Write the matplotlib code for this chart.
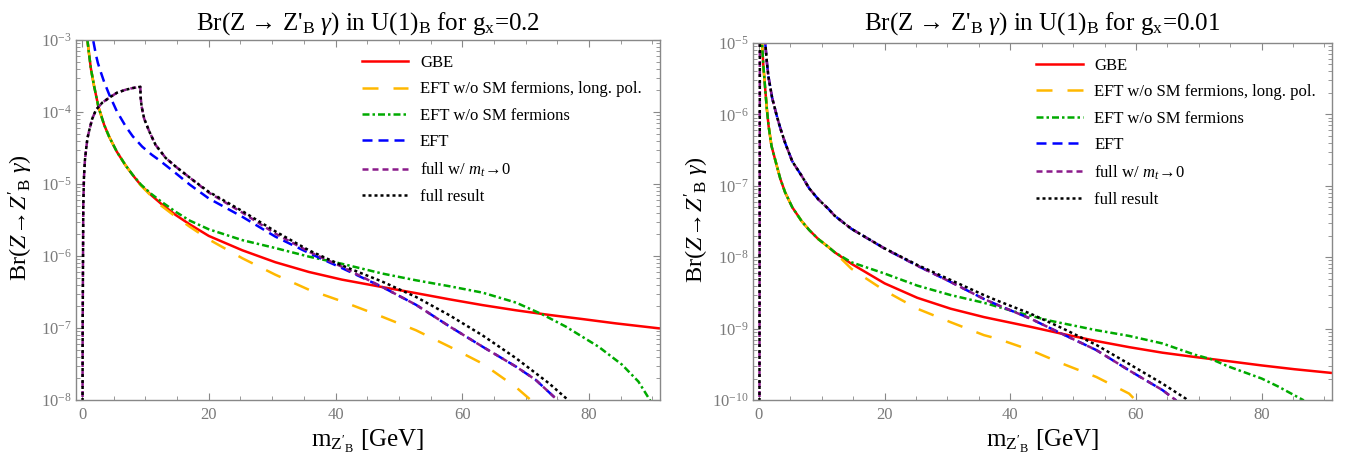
import numpy as np
import matplotlib
matplotlib.use("Agg")
import matplotlib.pyplot as plt
from matplotlib.ticker import FixedLocator, LogFormatterMathtext, MultipleLocator, NullFormatter

plt.rcParams['font.family'] = ['Liberation Serif', 'DejaVu Serif']
plt.rcParams['mathtext.fontset'] = 'custom'
plt.rcParams['mathtext.rm'] = 'Liberation Serif'
plt.rcParams['mathtext.it'] = 'Liberation Serif:italic'
plt.rcParams['mathtext.bf'] = 'Liberation Serif:bold'

# ---------------- data: left panel (g_x = 0.2) ----------------
L_gbe_x = [0.85, 1.1, 1.4, 1.9, 2.6, 3.5, 4.3, 5.5, 6.9, 8.0, 9.3, 11, 12.5, 14.8, 17, 20, 25.3, 30.5, 35.8, 41,
           47.4, 52.7, 58, 63.2, 68.5, 73.7, 79, 84.2, 91]
L_gbe_y = [1.0e-3, 6.5e-4, 4.0e-4, 2.3e-4, 1.17e-4, 6.6e-5, 4.5e-5, 2.8e-5, 1.8e-5, 1.33e-5, 9.6e-6, 6.9e-6,
           5.3e-6, 3.7e-6, 2.75e-6, 1.9e-6, 1.2e-6, 8.2e-7, 6.0e-7, 4.7e-7, 3.7e-7, 3.05e-7, 2.5e-7, 2.08e-7,
           1.76e-7, 1.52e-7, 1.33e-7, 1.16e-7, 9.9e-8]

L_long_x = [0.85, 1.1, 1.4, 1.9, 2.6, 3.5, 4.3, 5.5, 6.9, 8.0, 9.3, 11, 12.5, 14.8, 17, 20, 25.3, 30.5, 35.8, 41,
            46.8, 52.7, 58, 63.2, 68.5, 70.8, 72]
L_long_y = [1.0e-3, 6.5e-4, 4.0e-4, 2.3e-4, 1.17e-4, 6.6e-5, 4.5e-5, 2.8e-5, 1.8e-5, 1.33e-5, 9.5e-6, 6.7e-6,
            5.0e-6, 3.5e-6, 2.55e-6, 1.7e-6, 9.3e-7, 5.5e-7, 3.4e-7, 2.35e-7, 1.5e-7, 9.3e-8, 5.5e-8, 3.2e-8,
            1.5e-8, 1.0e-8, 8e-9]

L_nof_x = [0.85, 1.1, 1.4, 1.9, 2.6, 3.5, 4.3, 5.5, 6.9, 8.0, 9.3, 11, 12.5, 14.8, 17, 20, 25.3, 30.5, 35.8, 41,
           47.4, 52.7, 58, 63.2, 68.5, 72.6, 76.3, 81.5, 85.2, 87.8, 89.6, 90.5]
L_nof_y = [1.0e-3, 6.5e-4, 4.0e-4, 2.3e-4, 1.17e-4, 6.6e-5, 4.5e-5, 2.8e-5, 1.8e-5, 1.34e-5, 9.8e-6, 7.2e-6,
           5.7e-6, 4.1e-6, 3.1e-6, 2.35e-6, 1.66e-6, 1.29e-6, 9.8e-7, 7.8e-7, 5.7e-7, 4.6e-7, 3.8e-7, 3.1e-7,
           2.25e-7, 1.55e-7, 1.05e-7, 5.5e-8, 3.1e-8, 1.8e-8, 1.0e-8, 6e-9]

L_eft_x = [1.4, 1.75, 2.2, 2.5, 3.0, 3.5, 4.3, 5.5, 6.9, 8.0, 9.5, 11, 12.2, 14.8, 17, 20, 25.3, 30.5, 35.8, 41,
           47.4, 52.7, 58, 63.2, 68.5, 71.6, 75, 76]
L_eft_y = [1.6e-3, 1.0e-3, 6.2e-4, 4.8e-4, 3.5e-4, 2.6e-4, 1.74e-4, 1.02e-4, 6.3e-5, 4.6e-5, 3.3e-5, 2.55e-5,
           2.14e-5, 1.41e-5, 9.8e-6, 6.3e-6, 3.5e-6, 1.86e-6, 1.1e-6, 6.8e-7, 3.7e-7, 2.1e-7, 1.05e-7, 5.5e-8,
           2.9e-8, 1.9e-8, 1.0e-8, 8e-9]

L_mt0_x = [0.07, 0.1, 0.2, 0.3, 0.45, 0.63, 0.85, 1.15, 1.6, 2.2, 3.2, 4.3, 5.5, 6.9, 8.0, 9.2, 9.25, 9.4, 9.8,
           10.6, 11.6, 13.2, 14.8, 17.4, 20, 25.3, 30.5, 35.8, 41, 47.4, 52.7, 58, 63.2, 68.5, 71.6, 75, 76]
L_mt0_y = [1e-9, 1e-7, 5e-6, 1.2e-5, 2.1e-5, 2.95e-5, 4.3e-5, 5.6e-5, 8.0e-5, 1.07e-4, 1.35e-4, 1.58e-4,
           1.85e-4, 2.04e-4, 2.15e-4, 2.24e-4, 1.6e-4, 1.2e-4, 8.1e-5, 5.4e-5, 3.5e-5, 2.3e-5, 1.74e-5, 1.15e-5,
           7.6e-6, 4.0e-6, 2.05e-6, 1.15e-6, 7.1e-7, 3.7e-7, 2.1e-7, 1.05e-7, 5.5e-8, 2.9e-8, 1.9e-8, 1.0e-8, 8e-9]

L_full_x = [0.07, 0.1, 0.2, 0.3, 0.45, 0.63, 0.85, 1.15, 1.6, 2.2, 3.2, 4.3, 5.5, 6.9, 8.0, 9.2, 9.25, 9.4, 9.8,
            10.6, 11.6, 13.2, 14.8, 17.4, 20, 25.3, 30.5, 35.8, 41, 47.4, 52.7, 58, 63.2, 68.5, 73.7, 76.7, 77.5]
L_full_y = [1e-9, 1e-7, 5e-6, 1.2e-5, 2.1e-5, 2.95e-5, 4.3e-5, 5.6e-5, 8.0e-5, 1.07e-4, 1.35e-4, 1.58e-4,
            1.85e-4, 2.04e-4, 2.15e-4, 2.24e-4, 1.6e-4, 1.2e-4, 8.1e-5, 5.4e-5, 3.5e-5, 2.3e-5, 1.74e-5, 1.15e-5,
            7.8e-6, 4.2e-6, 2.2e-6, 1.2e-6, 7.4e-7, 4.4e-7, 2.7e-7, 1.5e-7, 7.9e-8, 3.8e-8, 1.7e-8, 1.0e-8, 8e-9]

# ---------------- data: right panel (g_x = 0.01) ----------------
R_gbe_x = [0.4, 0.7, 1.0, 1.25, 1.53, 2.0, 2.84, 3.4, 4.16, 5.3, 6.79, 8.0, 9.42, 11, 12.06, 14.7, 20, 25.2, 30.5,
           35.8, 38, 43.2, 48.4, 53.7, 58.9, 64.2, 69.4, 74.7, 80, 85.2, 91]
R_gbe_y = [1.3e-5, 4.8e-6, 2.24e-6, 1.2e-6, 6.9e-7, 3.6e-7, 1.9e-7, 1.25e-7, 8.1e-8, 5.0e-8, 3.2e-8, 2.4e-8,
           1.8e-8, 1.4e-8, 1.17e-8, 8.1e-9, 4.3e-9, 2.7e-9, 1.9e-9, 1.45e-9, 1.32e-9, 1.06e-9, 8.4e-10, 6.7e-10,
           5.5e-10, 4.6e-10, 4.0e-10, 3.5e-10, 3.05e-10, 2.7e-10, 2.4e-10]

R_long_x = [0.4, 0.7, 1.0, 1.25, 1.53, 2.0, 2.84, 3.4, 4.16, 5.3, 6.79, 8.0, 9.42, 11, 12.06, 14.7, 20, 25.2,
            30.5, 35.8, 38, 43.2, 48.4, 53.7, 58.9, 59.9, 60.5]
R_long_y = [1.3e-5, 4.8e-6, 2.24e-6, 1.2e-6, 6.9e-7, 3.6e-7, 1.9e-7, 1.25e-7, 8.1e-8, 5.0e-8, 3.2e-8, 2.4e-8,
            1.8e-8, 1.4e-8, 1.17e-8, 6.9e-9, 3.4e-9, 1.9e-9, 1.23e-9, 8.1e-10, 7.2e-10, 5.0e-10, 3.2e-10,
            2.1e-10, 1.23e-10, 1.0e-10, 8e-11]

R_nof_x = [0.4, 0.7, 1.0, 1.25, 1.53, 2.0, 2.84, 3.4, 4.16, 5.3, 6.79, 8.0, 9.42, 11, 12.06, 14.7, 20, 25.2, 30.5,
           35.8, 41, 46.3, 53.7, 58.9, 64.2, 69.4, 72.1, 74.7, 80, 82.6, 86.6, 87.5]
R_nof_y = [1.3e-5, 4.8e-6, 2.24e-6, 1.2e-6, 6.9e-7, 3.6e-7, 1.9e-7, 1.25e-7, 8.1e-8, 5.0e-8, 3.2e-8, 2.4e-8,
           1.8e-8, 1.4e-8, 1.17e-8, 8.5e-9, 5.9e-9, 4.0e-9, 2.95e-9, 2.3e-9, 1.7e-9, 1.29e-9, 9.5e-10, 7.9e-10,
           6.2e-10, 4.3e-10, 3.7e-10, 2.95e-10, 2.0e-10, 1.55e-10, 1.0e-10, 7e-11]

R_eft_x = [0.8, 1.0, 1.25, 1.5, 2.1, 2.84, 3.4, 4.16, 5.3, 6.79, 8.0, 9.42, 11, 12.06, 14.7, 20, 25.2, 30.5, 35.8,
           38, 43.2, 48.4, 53.7, 58.9, 64.2, 66.3, 67]
R_eft_y = [1.6e-5, 1.0e-5, 5.5e-6, 3.4e-6, 1.7e-6, 9.5e-7, 6.4e-7, 4.0e-7, 2.2e-7, 1.38e-7, 9.2e-8, 6.5e-8,
           4.8e-8, 3.8e-8, 2.5e-8, 1.32e-8, 7.6e-9, 4.5e-9, 2.6e-9, 2.14e-9, 1.38e-9, 8.3e-10, 5.0e-10, 2.6e-10,
           1.38e-10, 1.0e-10, 8e-11]

R_mt0_x = [0.07, 0.1, 0.14, 0.4, 0.8, 1.0, 1.25, 1.5, 2.1, 2.84, 3.4, 4.16, 5.3, 6.79, 8.0, 9.42, 11, 12.06, 14.7,
           20, 25.2, 30.5, 35.8, 38, 43.2, 48.4, 53.7, 58.9, 64.2, 66.3, 67]
R_mt0_y = [1e-11, 1e-8, 1e-5, 6e-5, 1.6e-5, 1.0e-5, 5.5e-6, 3.4e-6, 1.7e-6, 9.5e-7, 6.4e-7, 4.0e-7, 2.2e-7,
           1.38e-7, 9.2e-8, 6.5e-8, 4.8e-8, 3.8e-8, 2.5e-8, 1.32e-8, 7.6e-9, 4.5e-9, 2.6e-9, 2.14e-9, 1.38e-9,
           8.3e-10, 5.0e-10, 2.6e-10, 1.38e-10, 1.0e-10, 8e-11]

R_full_x = [0.07, 0.1, 0.14, 0.4, 0.8, 1.0, 1.25, 1.5, 2.1, 2.84, 3.4, 4.16, 5.3, 6.79, 8.0, 9.42, 11, 12.06,
            14.7, 20, 25.2, 30.5, 35.8, 38, 43.2, 48.4, 53.7, 58.9, 64.2, 67.9, 69]
R_full_y = [1e-11, 1e-8, 1e-5, 6e-5, 1.6e-5, 1.0e-5, 5.5e-6, 3.4e-6, 1.7e-6, 9.5e-7, 6.4e-7, 4.0e-7, 2.2e-7,
            1.38e-7, 9.2e-8, 6.5e-8, 4.8e-8, 3.8e-8, 2.5e-8, 1.33e-8, 7.8e-9, 4.8e-9, 2.95e-9, 2.45e-9, 1.62e-9,
            1.0e-9, 5.9e-10, 3.2e-10, 1.7e-10, 1.05e-10, 8e-11]

labels = ["GBE", "EFT w/o SM fermions, long. pol.", "EFT w/o SM fermions", "EFT",
          r"full w/ $m_t\!\rightarrow\!0$", "full result"]
titles = [r"Br(Z → Z'$_{\mathrm{B}}$ $\gamma$) in U(1)$_{\mathrm{B}}$ for g$_{\mathrm{x}}$=0.2",
          r"Br(Z → Z'$_{\mathrm{B}}$ $\gamma$) in U(1)$_{\mathrm{B}}$ for g$_{\mathrm{x}}$=0.01"]
ylims = [(1e-8, 1e-3), (1e-10, 1e-5)]
yticks = [[1e-8, 1e-7, 1e-6, 1e-5, 1e-4, 1e-3], [1e-10, 1e-9, 1e-8, 1e-7, 1e-6, 1e-5]]

# ---------------- styles ----------------
W, H = 1359, 466
styles = [
    dict(color='#FF0000', lw=1.8, ls='-'),
    dict(color='#FFB800', lw=1.8, dashes=(6.4, 6.0)),
    dict(color='#00AA00', lw=1.8, dashes=(2.8, 1.2, 1.0, 1.2)),
    dict(color='#0000FF', lw=1.8, dashes=(4.0, 2.4)),
    dict(color='#8B1A8B', lw=1.8, dashes=(2.4, 1.6)),
    dict(color='#000000', lw=1.8, dashes=(1.2, 1.2)),
]

fig = plt.figure(figsize=(W / 100, H / 100), dpi=100)

def px_axes(l, t, r, b):
    return fig.add_axes([l / W, 1 - b / H, (r - l) / W, (b - t) / H])

axL = px_axes(76, 40, 660, 400)
axR = px_axes(753, 43, 1332, 400)

gray = '#888888'
series = [
    [(L_gbe_x, L_gbe_y), (L_long_x, L_long_y), (L_nof_x, L_nof_y), (L_eft_x, L_eft_y), (L_mt0_x, L_mt0_y), (L_full_x, L_full_y)],
    [(R_gbe_x, R_gbe_y), (R_long_x, R_long_y), (R_nof_x, R_nof_y), (R_eft_x, R_eft_y), (R_mt0_x, R_mt0_y), (R_full_x, R_full_y)],
]

for k, ax in enumerate([axL, axR]):
    for (xs, ys), st, lab in zip(series[k], styles, labels):
        ax.plot(xs, ys, label=lab, **st)
    ax.set_yscale('log')
    ax.set_xlim(-0.95, 91.2)
    ax.set_ylim(*ylims[k])
    ax.xaxis.set_major_locator(MultipleLocator(20))
    ax.xaxis.set_minor_locator(MultipleLocator(5))
    dec = yticks[k]
    ax.yaxis.set_major_locator(FixedLocator(dec))
    minors = [m * d for d in dec[:-1] for m in range(2, 10)]
    ax.yaxis.set_minor_locator(FixedLocator(minors))
    ax.yaxis.set_major_formatter(LogFormatterMathtext())
    ax.yaxis.set_minor_formatter(NullFormatter())
    for sp in ax.spines.values():
        sp.set_color(gray)
        sp.set_linewidth(1.0)
    ax.tick_params(which='both', direction='in', top=True, right=True, colors=gray,
                   labelcolor='#7a7a7a', labelsize=12)
    ax.tick_params(which='major', length=5, width=0.8)
    ax.tick_params(which='minor', length=2.8, width=0.6)
    ax.tick_params(axis='x', pad=5)
    ax.tick_params(axis='y', pad=3)
    ax.legend(loc='upper left', bbox_to_anchor=(0.489, 0.958), frameon=False, fontsize=12,
              handlelength=2.8, handletextpad=0.7, labelspacing=0.62, borderpad=0, borderaxespad=0)

axes_px = [(76, 660), (753, 1332)]
for k in range(2):
    cx = (axes_px[k][0] + axes_px[k][1]) / 2 / W
    fig.text(cx, 1 - 30 / H, titles[k], ha='center', va='baseline', fontsize=18)
    fig.text(cx, 1 - 441 / H, r"m$_{\mathrm{Z'_{B}}}$ [GeV]", ha='center', va='center', fontsize=18)

ylab = r"Br($Z\!\rightarrow\!Z'_{\mathrm{B}}\ \gamma$)"
fig.text(21 / W, 1 - 218 / H, ylab, ha='center', va='center', rotation=90, fontsize=17.5)
fig.text(697 / W, 1 - 220 / H, ylab, ha='center', va='center', rotation=90, fontsize=17.5)

fig.savefig('out.png', dpi=100)
